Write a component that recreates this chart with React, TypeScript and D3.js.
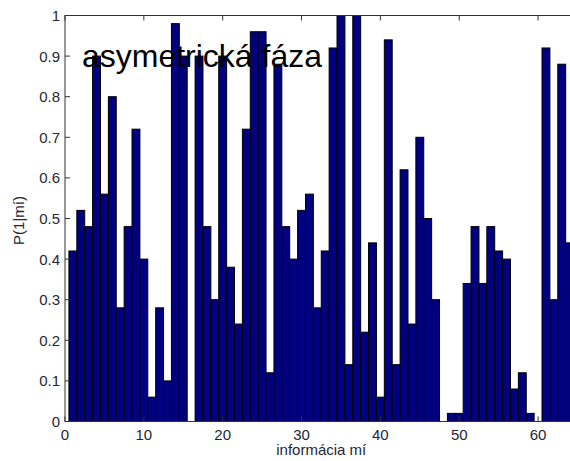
import React from "react";
import * as d3 from "d3";

// P(1|mí) for each value of mí = 1..64
const indices: number[] = Array.from({ length: 64 }, (_, k) => k + 1);
const probabilities: number[] = [
  0.42, 0.52, 0.48, 0.9, 0.56, 0.8, 0.28, 0.48, 0.72, 0.4,
  0.06, 0.28, 0.1, 0.98, 0.9, 0, 0.9, 0.48, 0.3, 0.9,
  0.38, 0.24, 0.72, 0.96, 0.96, 0.12, 0.88, 0.48, 0.4, 0.52,
  0.56, 0.28, 0.42, 0.92, 1.0, 0.14, 1.0, 0.22, 0.44, 0.06,
  0.94, 0.14, 0.62, 0.24, 0.7, 0.5, 0.3, 0, 0.02, 0.02,
  0.34, 0.48, 0.34, 0.48, 0.42, 0.4, 0.08, 0.12, 0.02, 0,
  0.92, 0.3, 0.88, 0.44,
];
const xTicks: number[] = [0, 10, 20, 30, 40, 50, 60];
const yTicks: number[] = [0, 0.1, 0.2, 0.3, 0.4, 0.5, 0.6, 0.7, 0.8, 0.9, 1];

const title = "asymetrická fáza";
const xLabel = "informácia mí";
const yLabel = "P(1|mí)";

const W = 570;
const H = 461;
const plot = { left: 65, right: 577.5, top: 15.5, bottom: 421.5 };
const FONT = "'Liberation Sans', Arial, sans-serif";
const TEXT = "#262633";

export default function App() {
  const x = d3.scaleLinear().domain([0, 65]).range([plot.left, plot.right]);
  const y = d3.scaleLinear().domain([0, 1]).range([plot.bottom, plot.top]);
  const tickLen = 5;
  const fmt = (v: number) => (v === 0 || v === 1 ? String(v) : d3.format(".1f")(v));

  return (
    <svg
      width={W}
      height={H}
      style={{ position: "fixed", left: 0, top: 0, background: "#fff" }}
      fontFamily={FONT}
    >
      <rect x={0} y={0} width={W} height={H} fill="#fff" />
      {/* bars */}
      {indices.map((i, k) => {
        const v = probabilities[k];
        if (v <= 0) return null;
        const x0 = x(i - 0.5);
        const x1 = x(i + 0.5);
        return (
          <rect
            key={i}
            x={x0}
            y={y(v)}
            width={x1 - x0}
            height={y(0) - y(v)}
            fill="#000080"
            stroke="#000"
            strokeWidth={1}
          />
        );
      })}
      {/* axes box */}
      <rect
        x={plot.left}
        y={plot.top}
        width={plot.right - plot.left}
        height={plot.bottom - plot.top}
        fill="none"
        stroke="#333"
        strokeWidth={1}
      />
      {/* x ticks */}
      {xTicks.map((t) => (
        <g key={"x" + t}>
          <line x1={x(t)} x2={x(t)} y1={plot.bottom} y2={plot.bottom - tickLen} stroke="#333" />
          <line x1={x(t)} x2={x(t)} y1={plot.top} y2={plot.top + tickLen} stroke="#333" />
          <text x={x(t)} y={plot.bottom + 18} textAnchor="middle" fontSize={15} fill={TEXT}>
            {t}
          </text>
        </g>
      ))}
      {/* y ticks */}
      {yTicks.map((t) => (
        <g key={"y" + t}>
          <line x1={plot.left} x2={plot.left + tickLen} y1={y(t)} y2={y(t)} stroke="#333" />
          <line x1={plot.right} x2={plot.right - tickLen} y1={y(t)} y2={y(t)} stroke="#333" />
          <text
            x={plot.left - 5}
            y={y(t)}
            textAnchor="end"
            dominantBaseline="central"
            fontSize={15}
            fill={TEXT}
          >
            {fmt(t)}
          </text>
        </g>
      ))}
      {/* in-plot label */}
      <text x={x(2.15)} y={y(0.9)} dominantBaseline="central" fontSize={32} fill="#000">
        {title}
      </text>
      {/* axis labels */}
      <text x={(plot.left + plot.right) / 2} y={455} textAnchor="middle" fontSize={15} fill={TEXT}>
        {xLabel}
      </text>
      <text
        transform={`translate(24, ${(plot.top + plot.bottom) / 2 + 2}) rotate(-90)`}
        textAnchor="middle"
        fontSize={15}
        fill={TEXT}
      >
        {yLabel}
      </text>
    </svg>
  );
}
